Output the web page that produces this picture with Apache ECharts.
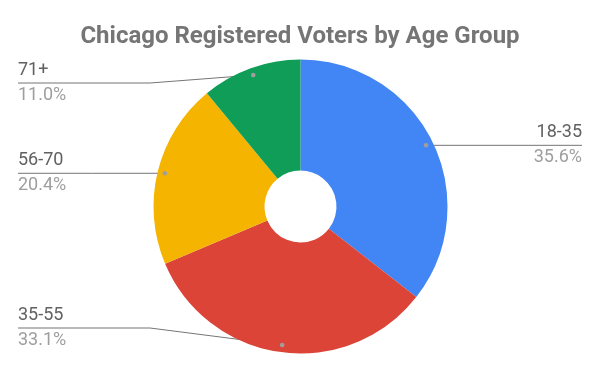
<!DOCTYPE html>
<html>
<head>
<meta charset="utf-8">
<script src="https://cdn.jsdelivr.net/npm/echarts@6/dist/echarts.min.js"></script>
<style>
html,body{margin:0;padding:0;background:#fff;}
#chart{width:600px;height:371px;}
</style>
</head>
<body>
<div id="chart"></div>
<script>
const categories = ['18-35', '35-55', '56-70', '71+'];
const values = [35.6, 33.1, 20.4, 11.0];
const colors = ['#4285F4', '#DB4437', '#F4B400', '#0F9D58'];
const titleText = 'Chicago Registered Voters by Age Group';

const chart = echarts.init(document.getElementById('chart'), null, {renderer: 'canvas'});

const CX = 300.5, CY = 206.5, R_IN = 36, R_OUT = 147;
const ANCHOR_R = R_OUT * 0.95;
const total = values.reduce((a, b) => a + b, 0);

// anchor points (inside slices) computed from the data
const anchors = [];
let cum = 0;
values.forEach(v => {
  const mid = (cum + v / 2) / total * 2 * Math.PI;
  anchors.push([CX + ANCHOR_R * Math.sin(mid), CY - ANCHOR_R * Math.cos(mid)]);
  cum += v;
});

// label line heights where the label is shifted away from its anchor
const shiftedLineY = { '71+': 83, '35-55': 328 };
const KINK_X = 150;

const option = {
  animation: false,
  title: {
    text: titleText,
    left: 'center',
    top: 20,
    textStyle: { fontFamily: 'Roboto', fontSize: 24, fontWeight: 'bold', color: '#757575' }
  },
  series: [{
    type: 'pie',
    center: [CX, CY],
    radius: [R_IN, R_OUT],
    startAngle: 90,
    clockwise: true,
    silent: true,
    data: categories.map((c, i) => ({ name: c, value: values[i], itemStyle: { color: colors[i] } })),
    label: {
      show: true,
      position: 'outside',
      alignTo: 'edge',
      edgeDistance: 18,
      fontFamily: 'Roboto',
      formatter: p => '{n|' + p.name + '}\n{p|' + p.value.toFixed(1) + '%}',
      rich: {
        n: { fontFamily: 'Roboto', fontSize: 18, color: '#616161', lineHeight: 25 },
        p: { fontFamily: 'Roboto', fontSize: 18, color: '#9e9e9e', lineHeight: 25 }
      }
    },
    labelLine: { show: true, length: 10, length2: 10, smooth: false, lineStyle: { color: '#757575', width: 1 } },
    labelLayout: function (params) {
      const i = params.dataIndex;
      const a = anchors[i];
      const name = categories[i];
      const isLeft = params.labelRect.x < 300;
      const y = shiftedLineY[name] !== undefined ? shiftedLineY[name] : a[1];
      const endX = isLeft ? params.labelRect.x : params.labelRect.x + params.labelRect.width;
      let mid;
      if (shiftedLineY[name] !== undefined) mid = [KINK_X, y];
      else mid = [(a[0] + endX) / 2, y];
      return {
        y: y,
        labelLinePoints: [[a[0], a[1]], mid, [endX, y]]
      };
    }
  }],
  graphic: anchors.map(a => ({
    type: 'circle',
    shape: { cx: a[0], cy: a[1], r: 2.3 },
    style: { fill: '#9e9e9e' },
    z: 100
  }))
};
chart.setOption(option);
</script>
</body>
</html>
